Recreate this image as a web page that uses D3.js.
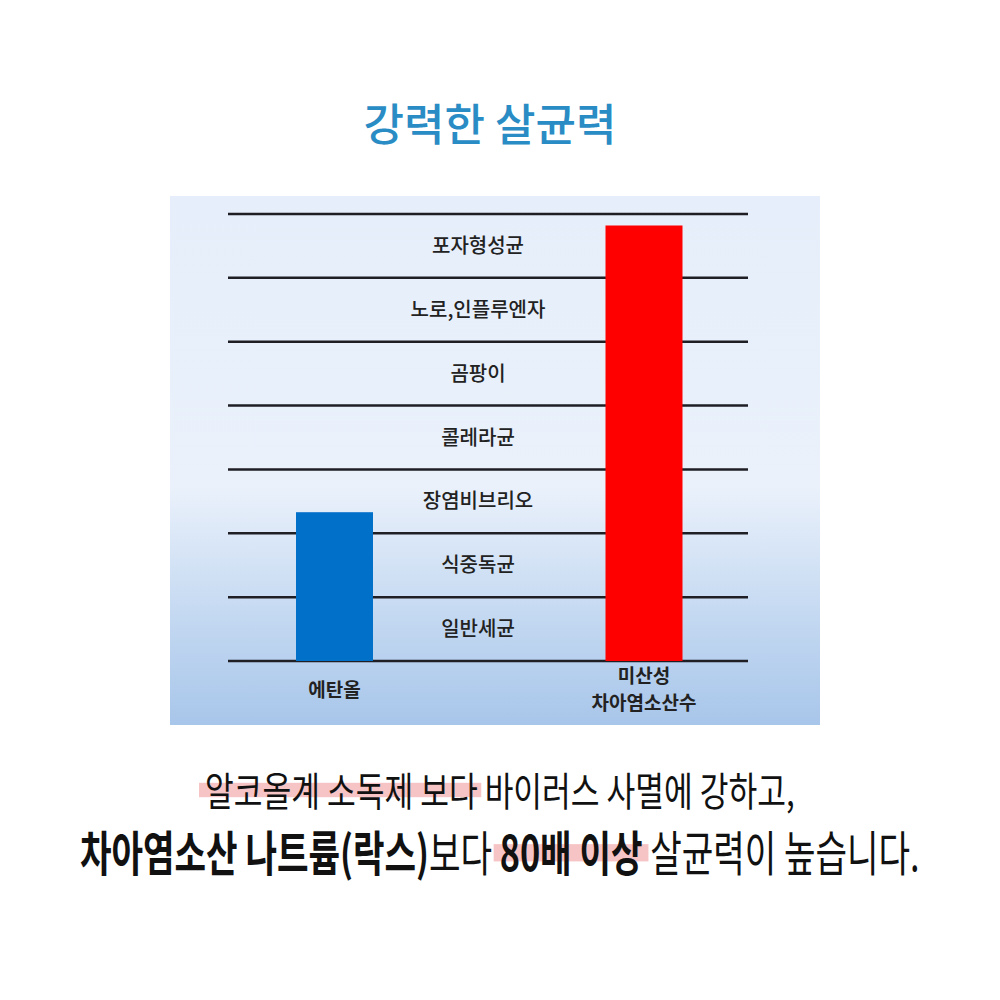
<!DOCTYPE html>
<html>
<head>
<meta charset="utf-8">
<script src="https://cdn.jsdelivr.net/npm/d3@7"></script>
<style>
  body { margin: 0; background: #fff; }
  svg { display: block; font-family: "Noto Sans CJK KR", "Noto Sans", sans-serif; }
</style>
</head>
<body>
<div id="chart"></div>
<script>
// data
const title = '강력한 살균력';
const levels = ['일반세균', '식중독균', '장염비브리오', '콜레라균', '곰팡이', '노로,인플루엔자', '포자형성균'];
const products = ['에탄올', '미산성\n차아염소산수'];
const productValues = [2.33, 6.82];
const productColors = ['#0070c8', '#ff0000'];
const line1 = [
  { text: '알코올계 소독제 보다 ', bold: false, mark: true },
  { text: '바이러스 사멸에 강하고,', bold: false, mark: false }
];
const line2 = [
  { text: '차아염소산 나트륨(락스)', bold: true, mark: false },
  { text: '보다 ', bold: false, mark: false },
  { text: '80배 이상', bold: true, mark: true },
  { text: ' 살균력이 높습니다.', bold: false, mark: false }
];

const width = 1000, height = 1000;
const svg = d3.select('#chart').append('svg')
  .attr('width', width)
  .attr('height', height);

// background gradient for the panel
const defs = svg.append('defs');
const grad = defs.append('linearGradient')
  .attr('id', 'panelGrad')
  .attr('x1', 0).attr('y1', 0).attr('x2', 0).attr('y2', 1);
grad.append('stop').attr('offset', '0%').attr('stop-color', '#e5eefa');
grad.append('stop').attr('offset', '55%').attr('stop-color', '#eaf1fb');
grad.append('stop').attr('offset', '80%').attr('stop-color', '#c3d8f1');
grad.append('stop').attr('offset', '100%').attr('stop-color', '#a8c6ea');

svg.append('rect')
  .attr('x', 170).attr('y', 196)
  .attr('width', 650).attr('height', 529)
  .attr('fill', 'url(#panelGrad)');

// title
svg.append('text')
  .attr('x', 490).attr('y', 141)
  .attr('text-anchor', 'middle')
  .attr('font-size', 44)
  .attr('font-weight', 500)
  .attr('fill', '#2a8cc4')
  .text(title);

// scales
const y = d3.scaleLinear()
  .domain([0, levels.length])
  .range([661, 214]);

const x = d3.scalePoint()
  .domain(products)
  .range([334.5, 644]);

const barWidth = 77;

// gridlines
svg.append('g')
  .selectAll('line')
  .data(d3.range(levels.length + 1))
  .enter().append('line')
  .attr('x1', 228)
  .attr('x2', 748)
  .attr('y1', d => y(d))
  .attr('y2', d => y(d))
  .attr('stroke', '#1e1e24')
  .attr('stroke-width', 2.5);

// level labels
svg.append('g')
  .selectAll('text')
  .data(levels)
  .enter().append('text')
  .attr('x', 478)
  .attr('y', (d, i) => y(i + 0.5))
  .attr('dy', '0.35em')
  .attr('text-anchor', 'middle')
  .attr('font-size', 20)
  .attr('font-weight', 500)
  .attr('fill', '#222')
  .text(d => d);

// bars
svg.append('g')
  .selectAll('rect')
  .data(products)
  .enter().append('rect')
  .attr('x', d => x(d) - barWidth / 2)
  .attr('width', barWidth)
  .attr('y', (d, i) => y(productValues[i]))
  .attr('height', (d, i) => y(0) - y(productValues[i]))
  .attr('fill', (d, i) => productColors[i]);

// bar labels
const barLabels = svg.append('g')
  .selectAll('text')
  .data(products)
  .enter().append('text')
  .attr('x', d => x(d))
  .attr('y', d => d.includes('\n') ? 683 : 697)
  .attr('text-anchor', 'middle')
  .attr('font-size', 19)
  .attr('font-weight', 700)
  .attr('fill', '#222');

barLabels.each(function(d) {
  const parts = d.split('\n');
  d3.select(this).selectAll('tspan')
    .data(parts)
    .enter().append('tspan')
    .attr('x', x(d))
    .attr('dy', (p, i) => i === 0 ? 0 : 27)
    .text(p => p);
});

// bottom sentences with highlight marks
function drawLine(parts, yBase, size, xStart, totalWidth, hlTop) {
  const g = svg.append('g');
  const t = g.append('text')
    .attr('y', yBase)
    .attr('font-size', size)
    .attr('fill', '#111');
  const spans = parts.map(p => t.append('tspan')
    .attr('font-weight', p.bold ? 700 : 400)
    .text(p.text));
  // squeeze to the reference width (the original face is condensed)
  const natural = t.node().getComputedTextLength();
  const k = totalWidth / natural;
  t.attr('transform', `translate(${xStart},0) scale(${k},1)`);
  let offset = 0;
  parts.forEach((p, i) => {
    const w = spans[i].node().getComputedTextLength();
    if (p.mark) {
      const trimmed = p.text.trimEnd().length < p.text.length ? w - size * 0.3 : w;
      const lead = p.text.startsWith(' ') ? size * 0.3 : 0;
      g.insert('rect', 'text')
        .attr('x', xStart + (offset + lead) * k - 6)
        .attr('y', yBase - size * hlTop)
        .attr('width', (trimmed - lead) * k + 12)
        .attr('height', size * 0.36)
        .attr('fill', '#f7c4c6');
    }
    offset += w;
  });
}

drawLine(line1, 806, 40, 205, 590, 0.58);
drawLine(line2, 871, 48, 80, 840, 0.56);
</script>
</body>
</html>
